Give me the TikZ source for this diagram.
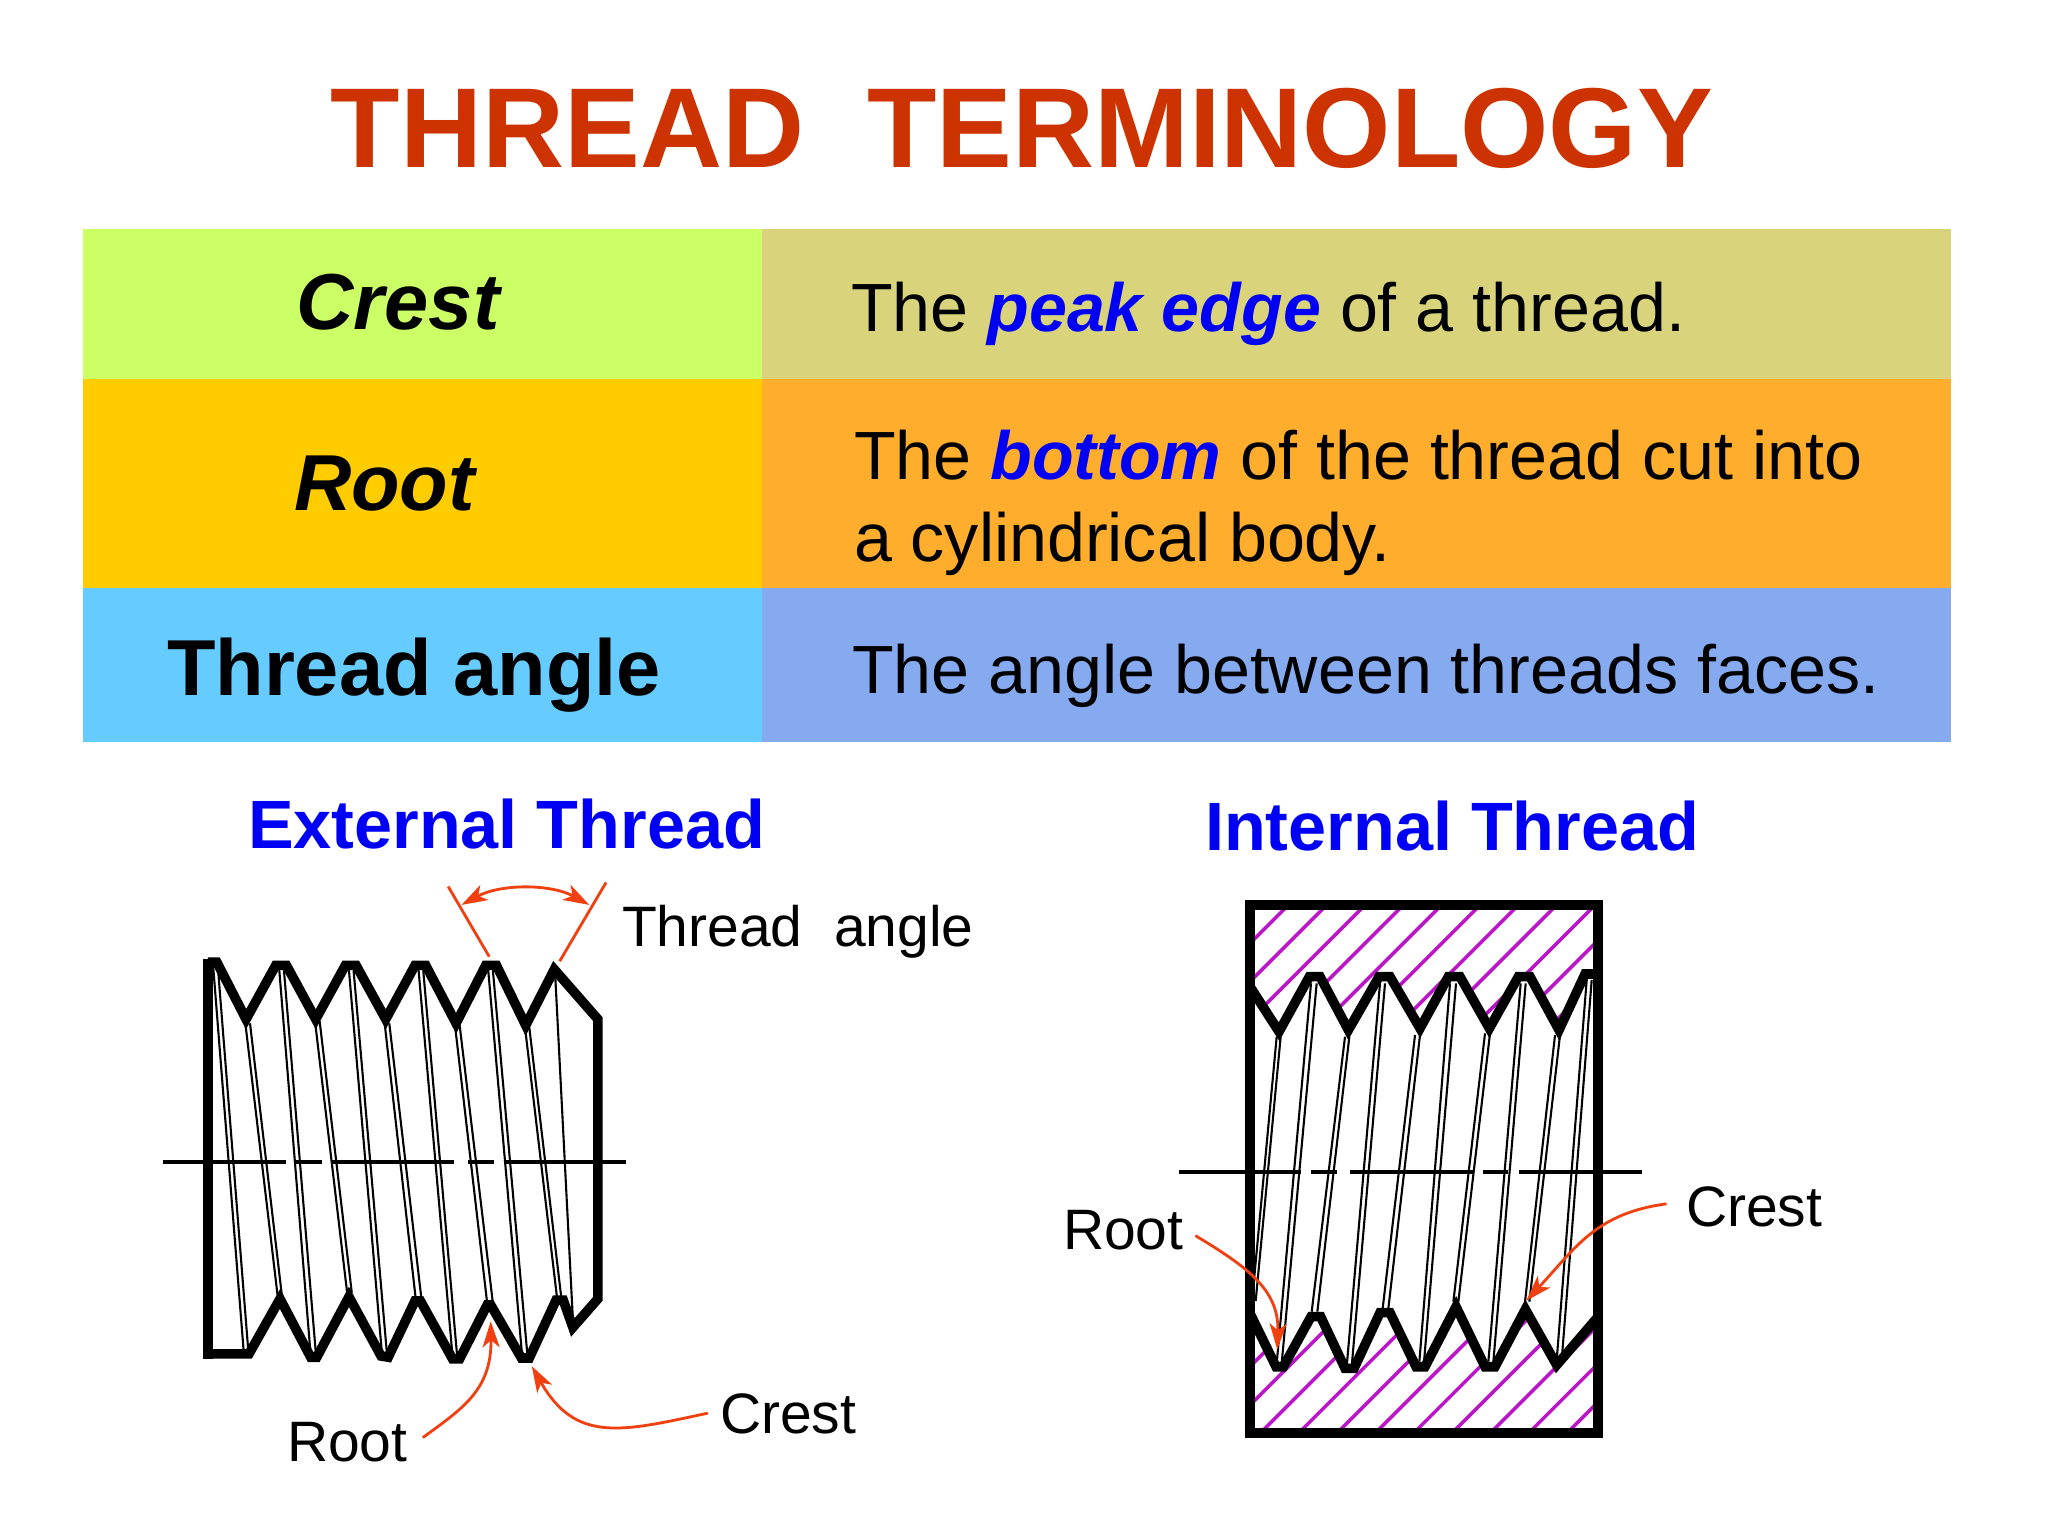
\documentclass[tikz,border=0pt]{standalone}
\usepackage{fontspec}
\setmainfont{Liberation Sans}
\usetikzlibrary{arrows.meta}
\definecolor{titlered}{HTML}{CC3300}
\definecolor{pureblue}{HTML}{0000F5}
\definecolor{arrowred}{HTML}{F04010}
\definecolor{hatch}{HTML}{BC14C8}
\definecolor{c1l}{HTML}{CCFF66}
\definecolor{c1r}{HTML}{D9D47C}
\definecolor{c2l}{HTML}{FFCC00}
\definecolor{c2r}{HTML}{FFAD2C}
\definecolor{c3l}{HTML}{66CCFF}
\definecolor{c3r}{HTML}{85AAF0}
\newcommand{\fs}[1]{\fontsize{#1}{#1}\selectfont}
\tikzset{
 lbl/.style={anchor=base west,inner sep=0pt,outer sep=0pt},
 termtext/.style={lbl,font=\fs{39.7}\bfseries},
 desctext/.style={lbl,font=\fs{34.1}},
 headtext/.style={lbl,font=\fs{34.2}\bfseries,text=pureblue},
 parttext/.style={lbl,font=\fs{28.5}},
 outline/.style={line width=4.8pt,miter limit=10,line join=miter},
 wall/.style={line width=4.8pt},
 helixline/.style={line width=1.05pt},
 axisline/.style={line width=1.9pt},
 redline/.style={draw=arrowred,line width=1.4pt},
 redarrow/.style={redline,-{Stealth[length=13pt,width=8.5pt,inset=3.5pt]}},
 redboth/.style={redline,{Stealth[length=13pt,width=8.5pt,inset=3.5pt]}-{Stealth[length=13pt,width=8.5pt,inset=3.5pt]}},
 hatchline/.style={draw=hatch,line width=1.75pt}
}
\begin{document}
\begin{tikzpicture}[x=0.5pt,y=-0.5pt]
\useasboundingbox (0,0) rectangle (2048,1536);
\fill[white] (0,0) rectangle (2048,1536);
% table
\fill[c1l] (82.5,229) rectangle (762,379);
\fill[c1r] (762,229) rectangle (1951,379);
\fill[c2l] (82.5,379) rectangle (762,588);
\fill[c2r] (762,379) rectangle (1951,588);
\fill[c3l] (82.5,588) rectangle (762,742);
\fill[c3r] (762,588) rectangle (1951,742);
\node[lbl,font=\fs{56.8}\bfseries,text=titlered,anchor=base] (title) at (1022,167) {THREAD\ \ TERMINOLOGY};
\node[termtext,font=\fs{39.7}\bfseries\itshape] (tcrest) at (296.5,329) {Crest};
\node[termtext,font=\fs{39.7}\bfseries\itshape] (troot) at (294,510) {Root};
\node[termtext] (tangle) at (167,695) {Thread angle};
\node[desctext] (dcrest) at (851,331) {The {\bfseries\itshape\color{pureblue}peak edge} of a thread.};
\node[desctext] (droota) at (854,479) {The {\bfseries\itshape\color{pureblue}bottom} of the thread cut into};
\node[desctext] (drootb) at (854,561) {a cylindrical body.};
\node[desctext] (dangle) at (852,693) {The angle between threads faces.};
\node[headtext] (hext) at (248,848) {External Thread};
\node[headtext] (hint) at (1205,850) {Internal Thread};
\node[parttext] (lang) at (622,946) {Thread\ \ angle};
\node[parttext] (lroote) at (287,1461) {Root};
\node[parttext] (lcreste) at (720,1433) {Crest};
\node[parttext] (lrooti) at (1063,1249) {Root};
\node[parttext] (lcresti) at (1686,1226) {Crest};
% external thread
\begin{scope}[shift={(140,860)},x=0.17857pt,y=-0.2041pt]
\foreach \a/\b/\c/\d in {205/262/290/1200,218/262/303/1200,295/400/385/1065,308/400/397/1065,390/270/478/1215,403/270/493/1215,490/395/580/1060,503/395/593/1060,585/270/678/1215,598/270/692/1215,685/400/772/1075,698/400/788/1075,780/270/875/1215,793/270/888/1215,882/405/972/1085,895/405/988/1085,975/270/1070/1215,988/270/1085/1215,1078/410/1168/1075,1090/410/1180/1075,1163/290/1212/1125}
  \draw[helixline] (\a,\b) -- (\c,\d);
\foreach \a/\b in {65/408,437/510,535/880,918/990,1018/1360}
  \draw[axisline] (\a,740) -- (\b,740);
\draw[outline] (190,1210) -- (305,1210) -- (392,1075) -- (478,1218) -- (495,1218) -- (585,1070) -- (675,1215) -- (695,1218) -- (770,1080) -- (785,1080) -- (875,1222) -- (895,1222) -- (972,1090) -- (982,1090) -- (1068,1220) -- (1090,1220) -- (1165,1078) -- (1185,1078) -- (1212,1145) -- (1282,1075) -- (1282,390) -- (1160,268) -- (1080,405) -- (998,258) -- (968,258) -- (885,400) -- (800,258) -- (770,258) -- (688,390) -- (605,258) -- (575,258) -- (492,390) -- (410,258) -- (380,258) -- (297,390) -- (215,250) -- (190,250);
\draw[wall] (190,243) -- (190,1222);
\coordinate (ea1) at (863,65); \coordinate (ea2) at (978,237);
\coordinate (eb1) at (1305,55); \coordinate (eb2) at (1175,248);
\coordinate (ec1) at (900,110); \coordinate (ec2) at (1258,110);
\coordinate (er1) at (792,1415); \coordinate (er2) at (982,1130);
\coordinate (ek1) at (1590,1355); \coordinate (ek2) at (1097,1240);
\draw[redline] (ea1) -- (ea2);
\draw[redline] (eb1) -- (eb2);
\draw[redboth] (ec1) .. controls (1010,58) and (1150,58) .. (ec2);
\draw[redarrow] (er1) .. controls (900,1345) and (985,1300) .. (er2);
\draw[redarrow] (ek1) .. controls (1350,1400) and (1220,1430) .. (ek2);
\end{scope}
% internal thread: hatching, helix lines, outline
\begin{scope}[shift={(1230,960)},x=0.16667pt,y=-0.16667pt]
\begin{scope}
\clip (60,-165) -- (1104,-165) -- (1104,42) -- (1065,42) -- (987,210) -- (900,50) -- (865,50) -- (778,205) -- (690,50) -- (655,50) -- (570,205) -- (480,50) -- (447,50) -- (355,210) -- (270,50) -- (238,50) -- (147,215) -- (60,80) -- cycle;
\foreach \k [evaluate=\k as \c using 240+115*\k] in {-3,...,13}
  \draw[hatchline] (\c+200,-200) -- (\c-300,300);
\end{scope}
\begin{scope}
\clip (60,1419) -- (1104,1419) -- (1104,1075) -- (980,1215) -- (886,1048) -- (795,1220) -- (765,1220) -- (678,1040) -- (585,1220) -- (558,1220) -- (480,1058) -- (450,1058) -- (372,1225) -- (345,1225) -- (272,1070) -- (243,1070) -- (160,1220) -- (138,1220) -- (60,1060) -- cycle;
\foreach \k [evaluate=\k as \c using 1510+115*\k] in {-5,...,10}
  \draw[hatchline] (\c-1000,1000) -- (\c-1450,1450);
\end{scope}
\foreach \a/\b/\c/\d in {140/230/65/1035,152/230/77/1023,243/70/140/1210,260/70/155/1210,345/230/245/1055,358/230/262/1055,450/70/350/1220,465/70/365/1220,555/225/458/1045,570/225/475/1045,660/70/568/1205,678/70/582/1205,765/220/670/1025,780/220/685/1025,872/70/775/1205,887/70/790/1205,975/225/885/1025,990/225/898/1025,1070/60/980/1200,1085/60/995/1200}
  \draw[helixline] (\a,\b) -- (\c,\d);
\draw[wall,miter limit=10] (60,-165) rectangle (1104,1419);
\draw[outline] (60,80) -- (147,215) -- (238,50) -- (270,50) -- (355,210) -- (447,50) -- (480,50) -- (570,205) -- (655,50) -- (690,50) -- (778,205) -- (865,50) -- (900,50) -- (987,210) -- (1065,42) -- (1100,42);
\draw[outline] (60,1060) -- (138,1220) -- (160,1220) -- (243,1070) -- (272,1070) -- (345,1225) -- (372,1225) -- (450,1058) -- (480,1058) -- (558,1220) -- (585,1220) -- (678,1040) -- (765,1220) -- (795,1220) -- (886,1048) -- (980,1215) -- (1100,1075);
\end{scope}
% internal thread: axis and leaders
\begin{scope}[shift={(1050,880)},x=0.1976pt,y=-0.1916pt]
\foreach \a/\b in {327/635,660/725,760/1070,1095/1160,1187/1497}
  \draw[axisline] (\a,762) -- (\b,762);
\coordinate (ir1) at (368,928); \coordinate (ir2) at (575,1225);
\coordinate (ik1) at (1560,845); \coordinate (ik2) at (1205,1098);
\draw[redarrow] (ir1) .. controls (500,1010) and (580,1070) .. (ir2);
\draw[redarrow] (ik1) .. controls (1380,870) and (1330,960) .. (ik2);
\end{scope}
\end{tikzpicture}
\end{document}
